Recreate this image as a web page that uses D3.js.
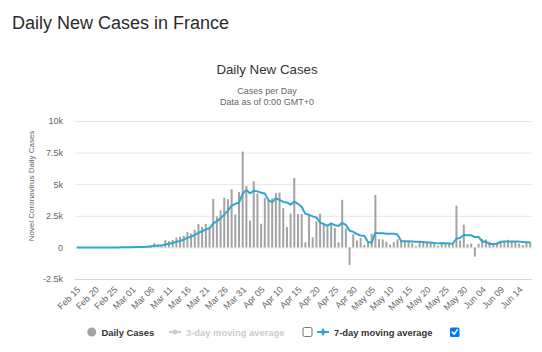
<!DOCTYPE html>
<html>
<head>
<meta charset="utf-8">
<script src="https://cdn.jsdelivr.net/npm/d3@7"></script>
<style>
  html, body { margin: 0; padding: 0; background: #fff; }
  svg { display: block; }
  text { font-family: "Liberation Sans", Arial, Helvetica, sans-serif; }
</style>
</head>
<body>
<svg id="chart" width="542" height="352"></svg>
<script>
// ---- Data ----
const startDate = "2020-02-15";
const dailyCases = [
  1, 0, 0, 0, 0, 0, 0, 0, 0, 0,
  2, 4, 20, 19, 43, 30, 61, 21, 73, 138,
  190, 336, 177, 83, 575, 497, 595, 785, 838, 924,
  1210, 1097, 1404, 1861, 1617, 1847, 1559, 3838, 2446, 2931,
  3922, 3809, 4611, 2599, 4376, 7578, 4861, 2116, 5233, 4267,
  1873, 3912, 3777, 3881, 4286, 4342, 3114, 1613, 2673, 5497,
  2633, 2641, 405, 2569, 785, 2051, 2667, 1827, 1653, 1780,
  1537, 400, 3764, 1500, -1400, 1050, 550, 750, 210, 380,
  1080, 4150, 650, 620, 450, 220, 420, 640, 580, 520,
  520, 330, 100, 450, 450, 380, 430, 300, 120, 330,
  330, 280, 250, 3300, 550, 1800, 250, 300, -730, 300,
  670, 620, 450, 300, 400, 450, 420, 600, 550, 480,
  300, 180, 350, 420
];
const yTickValues = [-2500, 0, 2500, 5000, 7500, 10000];
const yTickLabels = ["-2.5k", "0", "2.5k", "5k", "7.5k", "10k"];
const xTickLabels = ["Feb 15", "Feb 20", "Feb 25", "Mar 01", "Mar 06", "Mar 11", "Mar 16",
  "Mar 21", "Mar 26", "Mar 31", "Apr 05", "Apr 10", "Apr 15", "Apr 20", "Apr 25", "Apr 30",
  "May 05", "May 10", "May 15", "May 20", "May 25", "May 30", "Jun 04", "Jun 09", "Jun 14"];
const legendLabels = ["Daily Cases", "3-day moving average", "7-day moving average"];

// ---- Derived ----
const parse = d3.timeParse("%Y-%m-%d");
const start = parse(startDate);
const dates = dailyCases.map((_, i) => d3.timeDay.offset(start, i));
// 7-day trailing moving average of the daily series (the chart's blue line)
const movingAvg7 = dailyCases.map((_, i) => d3.mean(dailyCases.slice(Math.max(0, i - 6), i + 1)));

const svg = d3.select("#chart");
const plot = { left: 75, right: 532, top: 121, bottom: 279 };

const x = d3.scaleBand()
  .domain(d3.range(dailyCases.length))
  .range([plot.left, plot.right])
  .paddingInner(0.46)
  .paddingOuter(0.23);
const xc = i => x(i) + x.bandwidth() / 2;

const y = d3.scaleLinear().domain([-2500, 10000]).range([plot.bottom, plot.top]);

// ---- Titles ----
svg.append("text").attr("x", 12).attr("y", 29)
  .attr("font-size", 18).attr("fill", "#2b2b2b")
  .text("Daily New Cases in France");

svg.append("text").attr("x", 267).attr("y", 74).attr("text-anchor", "middle")
  .attr("font-size", 13.3).attr("fill", "#333")
  .text("Daily New Cases");
svg.append("text").attr("x", 267).attr("y", 94).attr("text-anchor", "middle")
  .attr("font-size", 9).attr("fill", "#666")
  .text("Cases per Day");
svg.append("text").attr("x", 267).attr("y", 104.5).attr("text-anchor", "middle")
  .attr("font-size", 9).attr("fill", "#666")
  .text("Data as of 0:00 GMT+0");

// ---- Grid & y axis ----
const yAxis = d3.axisLeft(y).tickValues(yTickValues)
  .tickFormat((d, i) => yTickLabels[i])
  .tickSize(-(plot.right - plot.left)).tickPadding(12);
const gy = svg.append("g").attr("transform", `translate(${plot.left},0)`).call(yAxis);
gy.select(".domain").remove();
gy.selectAll(".tick line").attr("stroke", "#e6e6e6").attr("stroke-width", 1);
gy.selectAll(".tick text").attr("fill", "#666").attr("font-size", 9)
  .attr("font-family", "Liberation Sans, Arial, sans-serif");

svg.append("text")
  .attr("transform", `translate(34,${(plot.top + plot.bottom) / 2 - 14}) rotate(-90)`)
  .attr("text-anchor", "middle").attr("font-size", 8).attr("fill", "#666")
  .text("Novel Coronavirus Daily Cases");

// ---- X axis ----
const tickIdx = xTickLabels.map(l => d3.timeDay.count(start, d3.timeParse("%b %d %Y")(l + " 2020")));
const xAxis = d3.axisBottom(x).tickValues(tickIdx)
  .tickFormat((d, i) => xTickLabels[i]).tickSize(0).tickPadding(0);
const gx = svg.append("g").attr("transform", `translate(0,${plot.bottom})`).call(xAxis);
gx.select(".domain").attr("stroke", "#ccd6eb").attr("stroke-width", 1)
  .attr("d", `M${plot.left},0.5H${plot.right}`);
gx.selectAll(".tick text")
  .attr("font-size", 9).attr("fill", "#666")
  .attr("font-family", "Liberation Sans, Arial, sans-serif")
  .attr("text-anchor", "end")
  .attr("dy", "0.35em")
  .attr("transform", "translate(2,9) rotate(-45)")
  .attr("y", 0).attr("x", 0);

// ---- Bars ----
svg.append("g").selectAll("rect").data(dailyCases).join("rect")
  .attr("x", (d, i) => x(i))
  .attr("width", x.bandwidth())
  .attr("y", d => y(Math.max(0, d)))
  .attr("height", d => Math.abs(y(d) - y(0)))
  .attr("fill", "#a3a3a3");

// ---- 7-day moving average line ----
const line = d3.line().x((d, i) => xc(i)).y(d => y(d));
svg.append("path").datum(movingAvg7)
  .attr("fill", "none").attr("stroke", "#35a5cc").attr("stroke-width", 2)
  .attr("stroke-linejoin", "round").attr("d", line);

// ---- Legend ----
const lg = svg.append("g").attr("font-size", 9.4).attr("font-weight", "bold");
const ly = 335.5;
lg.append("circle").attr("cx", 91.7).attr("cy", ly - 3.5).attr("r", 4.5).attr("fill", "#a3a3a3");
lg.append("text").attr("x", 101.5).attr("y", ly).attr("fill", "#333").text(legendLabels[0]);

lg.append("line").attr("x1", 169).attr("x2", 181).attr("y1", ly - 3.5).attr("y2", ly - 3.5)
  .attr("stroke", "#cccccc").attr("stroke-width", 2);
lg.append("circle").attr("cx", 175).attr("cy", ly - 3.5).attr("r", 2.5).attr("fill", "#cccccc");
lg.append("text").attr("x", 186).attr("y", ly).attr("fill", "#cccccc").text(legendLabels[1]);

lg.append("rect").attr("x", 303).attr("y", ly - 8).attr("width", 9).attr("height", 9)
  .attr("rx", 1.5).attr("fill", "#fff").attr("stroke", "#767676").attr("stroke-width", 1);

lg.append("line").attr("x1", 317).attr("x2", 329).attr("y1", ly - 3.5).attr("y2", ly - 3.5)
  .attr("stroke", "#35a5cc").attr("stroke-width", 2);
lg.append("path").attr("d", d3.symbol(d3.symbolDiamond, 20)())
  .attr("transform", `translate(323,${ly - 3.5})`).attr("fill", "#35a5cc");
lg.append("text").attr("x", 334).attr("y", ly).attr("fill", "#333").text(legendLabels[2]);

lg.append("rect").attr("x", 450).attr("y", ly - 8).attr("width", 9.5).attr("height", 9.5)
  .attr("rx", 1.5).attr("fill", "#0075ff");
lg.append("path").attr("d", `M452.3,${ly - 3.4}L454.2,${ly - 1.3}L457.4,${ly - 5.9}`)
  .attr("fill", "none").attr("stroke", "#fff").attr("stroke-width", 1.6)
  .attr("stroke-linecap", "round").attr("stroke-linejoin", "round");
</script>
</body>
</html>
